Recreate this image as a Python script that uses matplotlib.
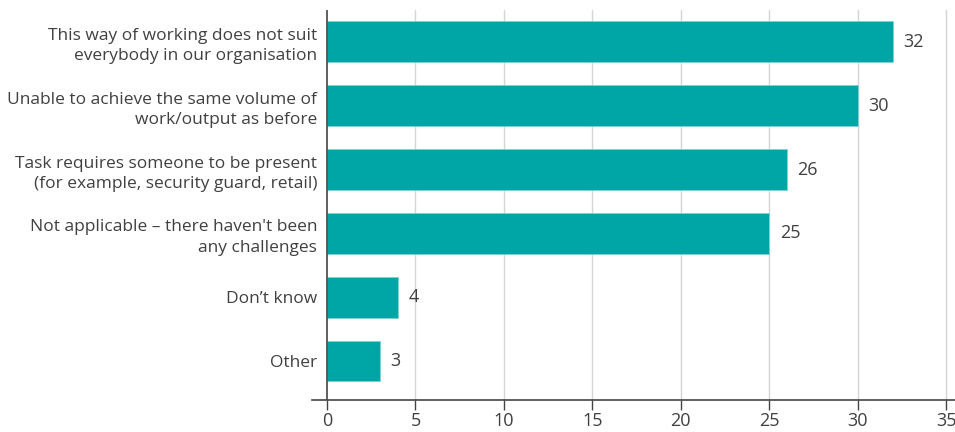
import numpy as np
import matplotlib
matplotlib.use("Agg")
from matplotlib import pyplot as plt

plt.rcParams['font.family'] = ['Open Sans', 'DejaVu Sans']

# Survey responses: challenges of the new way of working (%)
categories = [
    "This way of working does not suit\neverybody in our organisation",
    "Unable to achieve the same volume of\nwork/output as before",
    "Task requires someone to be present\n(for example, security guard, retail)",
    "Not applicable \u2013 there haven't been\nany challenges",
    "Don\u2019t know",
    "Other",
]
values = [32, 30, 26, 25, 4, 3]
xticks = [0, 5, 10, 15, 20, 25, 30, 35]

BAR_COLOR = "#00a6a6"
TEXT_COLOR = "#404040"

fig = plt.figure(figsize=(9.55, 4.32), dpi=100)
ax = fig.add_axes([312/955, 1 - 400/432, 1 - 312/955, 390/432])

y = np.arange(len(categories))
ax.barh(y, values, height=0.64, color=BAR_COLOR, edgecolor="#7fd3d3",
        linewidth=0.6, zorder=3)

for yi, v in zip(y, values):
    ax.text(v + 0.6, yi, str(v), va="center", ha="left",
            fontsize=13, color=TEXT_COLOR)

ax.set_yticks(y)
ax.set_yticklabels(categories, fontsize=12.5, color=TEXT_COLOR,
                   linespacing=1.35, ha="right")
# axes start left of zero, so pull the labels in towards the zero line
ax.tick_params(axis="y", length=0, pad=-3.8)

ax.set_xticks(xticks)
ax.set_xticklabels([str(t) for t in xticks], fontsize=13, color=TEXT_COLOR)
ax.tick_params(axis="x", length=7, width=1, color="#444444", pad=2)

ax.set_xlim(-0.85, 35.5)
ax.set_ylim(len(categories) - 1 + 0.61, -0.5)

# vertical gridlines at the tick positions only
for t in xticks[1:]:
    ax.axvline(t, color="#d4d4d4", linewidth=1, zorder=1)
ax.axvline(0, color="#444444", linewidth=1.2, zorder=4)

for side in ("left", "right", "top"):
    ax.spines[side].set_visible(False)
ax.spines["bottom"].set_color("#444444")
ax.spines["bottom"].set_linewidth(1.2)

fig.savefig("out.png", dpi=100)
